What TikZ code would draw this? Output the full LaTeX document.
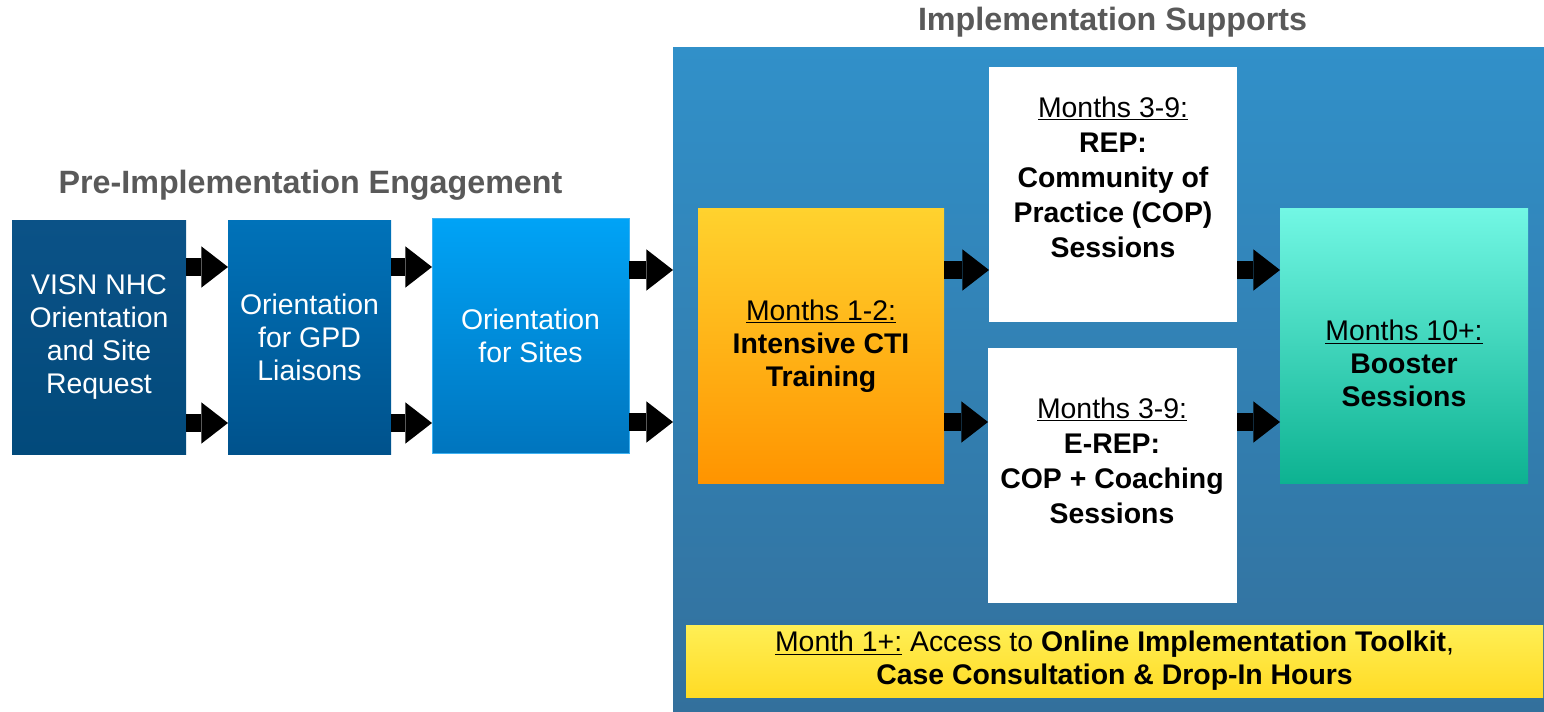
\documentclass[tikz,border=0pt]{standalone}
\usepackage{fontspec}
\setmainfont{Liberation Sans}
\usetikzlibrary{arrows.meta}

\definecolor{titlegray}{HTML}{595959}
\definecolor{navyT}{HTML}{0B5287}
\definecolor{navyB}{HTML}{024A7B}
\definecolor{midT}{HTML}{0072B9}
\definecolor{midB}{HTML}{00528C}
\definecolor{skyT}{HTML}{00A3F6}
\definecolor{skyB}{HTML}{0075BE}
\definecolor{skyEdge}{HTML}{3DB2F2}
\definecolor{panelT}{HTML}{3190C9}
\definecolor{panelB}{HTML}{33709C}
\definecolor{orangeT}{HTML}{FFD22E}
\definecolor{orangeB}{HTML}{FF9400}
\definecolor{tealT}{HTML}{72F7E4}
\definecolor{tealB}{HTML}{0DB291}
\definecolor{yellowT}{HTML}{FFEF55}
\definecolor{yellowB}{HTML}{FFDB25}

\tikzset{
  box/.style={anchor=north west, inner sep=0pt, outer sep=0pt, align=center,
    font=\fontsize{21.3}{24.75}\selectfont},
  bluebox/.style={box, text=white},
  darkbox/.style={box, text=black},
  heading/.style={font=\fontsize{24.2}{29}\selectfont\bfseries, text=titlegray, inner sep=0pt},
  label/.style={align=center, inner sep=0pt, text=black},
  flow/.style={draw=black, line width=13pt,
    -{Triangle[length=20pt, width=31pt, line width=0pt]}},
}

\begin{document}
\begin{tikzpicture}[x=0.75pt, y=-0.75pt]
\useasboundingbox (0,0) rectangle (1544,712);

% headings
\node[heading] (preT) at (310.5,185) {Pre-Implementation Engagement};
\node[heading] (impT) at (1112.5,22) {Implementation Supports};

% pre-implementation boxes
\node[bluebox, top color=navyT, bottom color=navyB,
  minimum width=130.5pt, minimum height=174.75pt] (b1) at (12,221)
  {VISN NHC\\Orientation\\and Site\\Request};
\node[bluebox, top color=midT, bottom color=midB,
  minimum width=122.25pt, minimum height=174.75pt] (b2) at (228,221)
  {Orientation\\for GPD\\Liaisons};
\node[bluebox, top color=skyT, bottom color=skyB, draw=skyEdge, line width=0.75pt,
  minimum width=147.75pt, minimum height=175.5pt] (b3) at (432,219)
  {Orientation\\for Sites};

% implementation panel
\node[box, top color=panelT, bottom color=panelB,
  minimum width=653.25pt, minimum height=498pt] (panel) at (673,48) {};

\node[darkbox, top color=orangeT, bottom color=orangeB,
  minimum width=184.5pt, minimum height=205.5pt] (cti) at (698,209)
  {\underline{Months 1-2:}\\\textbf{Intensive CTI}\\\textbf{Training}};

\node[box, fill=white, minimum width=186pt, minimum height=191.25pt] (rep) at (989,67) {};
\node[label, font=\fontsize{21.3}{26.25}\selectfont] (repT) at (1113,177)
  {\underline{Months 3-9:}\\\textbf{REP:}\\\textbf{Community of}\\\textbf{Practice (COP)}\\\textbf{Sessions}};

\node[box, fill=white, minimum width=186.75pt, minimum height=191.25pt] (erep) at (988,348) {};
\node[label, font=\fontsize{21.3}{26.25}\selectfont] (erepT) at (1112,460.5)
  {\underline{Months 3-9:}\\\textbf{E-REP:}\\\textbf{COP + Coaching}\\\textbf{Sessions}};

\node[box, top color=tealT, bottom color=tealB,
  minimum width=186pt, minimum height=205.5pt] (boost) at (1280,209) {};
\node[label, font=\fontsize{21.3}{24.5}\selectfont] (boostT) at (1404,363.5)
  {\underline{Months 10+:}\\\textbf{Booster}\\\textbf{Sessions}};

\node[darkbox, top color=yellowT, bottom color=yellowB,
  minimum width=642.75pt, minimum height=54pt] (kit) at (686,625)
  {\underline{Month 1+:} Access to \textbf{Online Implementation Toolkit},\\
   \textbf{Case Consultation \& Drop-In Hours}};

% arrow rows
\coordinate (rA) at (0,267);
\coordinate (rB) at (0,423);
\coordinate (rC) at (0,270);
\coordinate (rD) at (0,422);

\draw[flow] (b1.east |- rA) -- (b2.west |- rA);
\draw[flow] (b1.east |- rB) -- (b2.west |- rB);
\draw[flow] (b2.east |- rA) -- (b3.west |- rA);
\draw[flow] (b2.east |- rB) -- (b3.west |- rB);
\draw[flow] (b3.east |- rC) -- (panel.west |- rC);
\draw[flow] (b3.east |- rD) -- (panel.west |- rD);
\draw[flow] (cti.east |- rC) -- (rep.west |- rC);
\draw[flow] (cti.east |- rD) -- (erep.west |- rD);
\draw[flow] (rep.east |- rC) -- (boost.west |- rC);
\draw[flow] (erep.east |- rD) -- (boost.west |- rD);
\end{tikzpicture}
\end{document}
